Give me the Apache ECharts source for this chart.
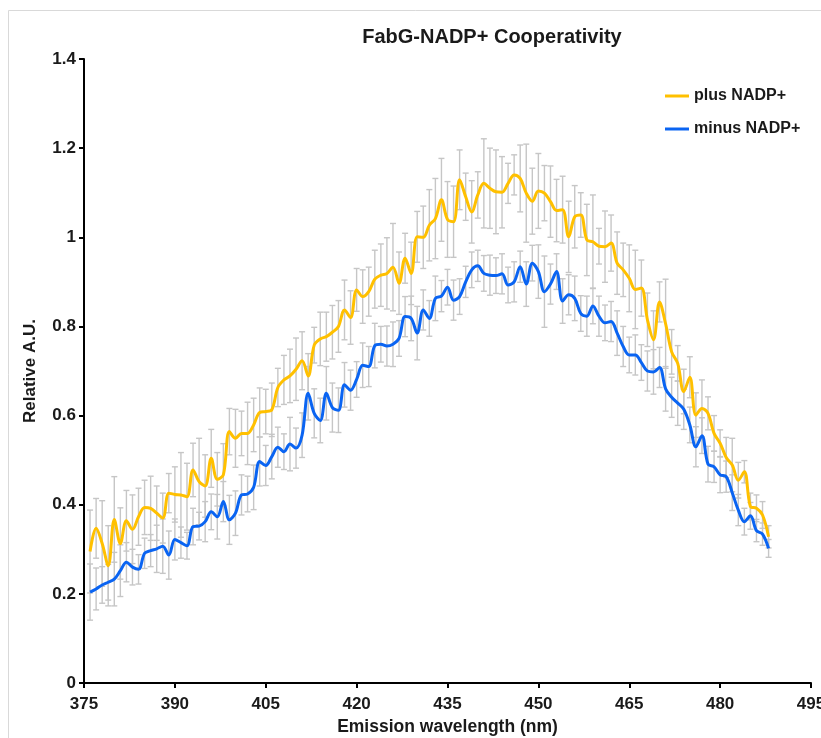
<!DOCTYPE html>
<html>
<head>
<meta charset="utf-8">
<script src="https://cdn.jsdelivr.net/npm/echarts@6/dist/echarts.min.js"></script>
<style>
  html, body { margin: 0; padding: 0; background: #ffffff; }
  #chart { width: 821px; height: 738px; }
</style>
</head>
<body>
<div id="chart"></div>
<script>
// Emission wavelength (nm) of each measurement
const wavelength = [
  376, 377, 378, 379, 380, 381, 382, 383, 384, 385,
  386, 387, 388, 389, 390, 391, 392, 393, 394, 395,
  396, 397, 398, 399, 400, 401, 402, 403, 404, 405,
  406, 407, 408, 409, 410, 411, 412, 413, 414, 415,
  416, 417, 418, 419, 420, 421, 422, 423, 424, 425,
  426, 427, 428, 429, 430, 431, 432, 433, 434, 435,
  436, 437, 438, 439, 440, 441, 442, 443, 444, 445,
  446, 447, 448, 449, 450, 451, 452, 453, 454, 455,
  456, 457, 458, 459, 460, 461, 462, 463, 464, 465,
  466, 467, 468, 469, 470, 471, 472, 473, 474, 475,
  476, 477, 478, 479, 480, 481, 482, 483, 484, 485,
  486, 487, 488
];

// Relative fluorescence, FabG with NADP+
const plusNADP = [
  0.295, 0.347, 0.313, 0.263, 0.367, 0.313, 0.364, 0.345, 0.373, 0.394,
  0.392, 0.381, 0.370, 0.426, 0.423, 0.422, 0.418, 0.478, 0.452, 0.442,
  0.504, 0.457, 0.467, 0.564, 0.549, 0.560, 0.560, 0.579, 0.607, 0.609,
  0.613, 0.663, 0.680, 0.689, 0.704, 0.723, 0.689, 0.758, 0.772, 0.777,
  0.787, 0.800, 0.837, 0.820, 0.882, 0.867, 0.878, 0.906, 0.915, 0.919,
  0.933, 0.897, 0.953, 0.919, 1.001, 1.000, 1.027, 1.042, 1.084, 1.040,
  1.035, 1.129, 1.091, 1.057, 1.095, 1.121, 1.110, 1.102, 1.101, 1.121,
  1.140, 1.132, 1.099, 1.081, 1.104, 1.099, 1.080, 1.060, 1.062, 1.001,
  1.046, 1.050, 0.994, 0.990, 0.980, 0.979, 0.987, 0.942, 0.927, 0.908,
  0.883, 0.886, 0.815, 0.770, 0.855, 0.806, 0.743, 0.717, 0.654, 0.686,
  0.601, 0.616, 0.605, 0.560, 0.538, 0.506, 0.489, 0.455, 0.474, 0.396,
  0.392, 0.377, 0.328
];

// Error (± one standard deviation) for the plus NADP+ trace
const plusErr = [
  0.093, 0.067, 0.096, 0.090, 0.096, 0.080, 0.068, 0.077, 0.064, 0.061,
  0.072, 0.061, 0.056, 0.044, 0.062, 0.095, 0.075, 0.060, 0.097, 0.070,
  0.065, 0.060, 0.070, 0.052, 0.065, 0.050, 0.070, 0.060, 0.055, 0.050,
  0.060, 0.043, 0.055, 0.060, 0.070, 0.065, 0.050, 0.040, 0.060, 0.055,
  0.060, 0.058, 0.067, 0.060, 0.048, 0.060, 0.055, 0.065, 0.070, 0.080,
  0.098, 0.070, 0.056, 0.070, 0.057, 0.070, 0.080, 0.090, 0.093, 0.085,
  0.080, 0.067, 0.053, 0.070, 0.052, 0.100, 0.090, 0.094, 0.080, 0.045,
  0.045, 0.075, 0.110, 0.074, 0.084, 0.062, 0.080, 0.070, 0.075, 0.080,
  0.070, 0.050, 0.080, 0.105, 0.040, 0.080, 0.063, 0.070, 0.060, 0.075,
  0.088, 0.063, 0.060, 0.065, 0.045, 0.100, 0.050, 0.040, 0.050, 0.046,
  0.050, 0.064, 0.037, 0.040, 0.030, 0.045, 0.060, 0.040, 0.025, 0.030,
  0.030, 0.030, 0.025
];

// Relative fluorescence, FabG without NADP+
const minusNADP = [
  0.204, 0.211, 0.220, 0.226, 0.233, 0.252, 0.271, 0.260, 0.255, 0.291,
  0.297, 0.301, 0.307, 0.287, 0.322, 0.315, 0.308, 0.351, 0.352, 0.362,
  0.384, 0.373, 0.407, 0.366, 0.381, 0.422, 0.424, 0.439, 0.497, 0.488,
  0.508, 0.529, 0.519, 0.536, 0.527, 0.556, 0.650, 0.605, 0.589, 0.650,
  0.618, 0.612, 0.669, 0.657, 0.681, 0.713, 0.710, 0.757, 0.760, 0.756,
  0.760, 0.773, 0.822, 0.818, 0.785, 0.837, 0.818, 0.863, 0.868, 0.888,
  0.859, 0.867, 0.900, 0.927, 0.936, 0.919, 0.915, 0.914, 0.918, 0.893,
  0.900, 0.934, 0.895, 0.942, 0.923, 0.878, 0.895, 0.923, 0.857, 0.871,
  0.863, 0.829, 0.823, 0.846, 0.823, 0.808, 0.811, 0.785, 0.755, 0.736,
  0.736, 0.719, 0.700, 0.698, 0.708, 0.660, 0.641, 0.628, 0.614, 0.579,
  0.530, 0.555, 0.491, 0.485, 0.467, 0.463, 0.427, 0.388, 0.362, 0.375,
  0.342, 0.334, 0.302
];

// Error (± one standard deviation) for the minus NADP+ trace
const minusErr = [
  0.063, 0.047, 0.041, 0.040, 0.060, 0.058, 0.044, 0.040, 0.033, 0.034,
  0.036, 0.053, 0.061, 0.054, 0.046, 0.035, 0.030, 0.041, 0.031, 0.045,
  0.040, 0.050, 0.045, 0.055, 0.050, 0.045, 0.040, 0.050, 0.055, 0.045,
  0.050, 0.045, 0.040, 0.060, 0.045, 0.050, 0.060, 0.055, 0.050, 0.060,
  0.055, 0.050, 0.050, 0.045, 0.040, 0.050, 0.045, 0.050, 0.040, 0.045,
  0.050, 0.040, 0.045, 0.050, 0.060, 0.045, 0.040, 0.050, 0.035, 0.040,
  0.045, 0.040, 0.035, 0.040, 0.035, 0.040, 0.045, 0.040, 0.045, 0.040,
  0.045, 0.035, 0.050, 0.040, 0.060, 0.080, 0.045, 0.040, 0.050, 0.045,
  0.050, 0.040, 0.045, 0.040, 0.045, 0.040, 0.045, 0.050, 0.045, 0.040,
  0.045, 0.040, 0.045, 0.050, 0.045, 0.050, 0.045, 0.050, 0.045, 0.040,
  0.045, 0.040, 0.040, 0.035, 0.040, 0.035, 0.040, 0.035, 0.030, 0.030,
  0.025, 0.025, 0.020
];

const seriesNames = ['plus NADP+', 'minus NADP+'];
const xAxisRange = [375, 495];
const xTickStep = 15;
const yAxisRange = [0, 1.4];
const yTickStep = 0.2;

const COLOR_PLUS = '#FFC000';
const COLOR_MINUS = '#0A64F2';
const COLOR_ERR = '#C6C6C6';
const FONT = "'Liberation Sans', Arial, sans-serif";

function toPairs(values) {
  return wavelength.map((w, i) => [w, values[i]]);
}

// Vertical error bars with small caps, drawn through the axis scales
function errorBars(values, errs, name) {
  return {
    type: 'custom',
    name: name + ' error',
    silent: true,
    z: 1,
    data: wavelength.map((w, i) => [w, values[i] - errs[i], values[i] + errs[i]]),
    encode: { x: 0, y: [1, 2] },
    renderItem(params, api) {
      const lo = api.coord([api.value(0), api.value(1)]);
      const hi = api.coord([api.value(0), api.value(2)]);
      const cap = 3;
      const style = { stroke: COLOR_ERR, lineWidth: 1.4 };
      return {
        type: 'group',
        children: [
          { type: 'line', shape: { x1: lo[0], y1: lo[1], x2: hi[0], y2: hi[1] }, style },
          { type: 'line', shape: { x1: lo[0] - cap, y1: lo[1], x2: lo[0] + cap, y2: lo[1] }, style },
          { type: 'line', shape: { x1: hi[0] - cap, y1: hi[1], x2: hi[0] + cap, y2: hi[1] }, style }
        ]
      };
    }
  };
}

function traceSeries(values, name, color) {
  return {
    type: 'line',
    name,
    data: toPairs(values),
    showSymbol: false,
    smooth: 0.35,
    z: 3,
    lineStyle: { color, width: 3 },
    itemStyle: { color },
    emphasis: { disabled: true }
  };
}

const chart = echarts.init(document.getElementById('chart'), null, { renderer: 'canvas' });

chart.setOption({
  animation: false,
  backgroundColor: '#ffffff',
  title: {
    text: 'FabG-NADP+ Cooperativity',
    left: 487,
    top: 22,
    textAlign: 'center',
    textStyle: { fontFamily: FONT, fontWeight: 'bold', fontSize: 20, color: '#1a1a1a' }
  },
  graphic: [{
    type: 'rect',
    silent: true,
    shape: { x: 8.5, y: 10.5, width: 900, height: 900 },
    style: { fill: null, stroke: '#D9D9D9', lineWidth: 1 },
    z: -1
  }],
  legend: {
    data: seriesNames,
    orient: 'vertical',
    left: 660,
    top: 83,
    itemWidth: 24,
    itemHeight: 3,
    itemGap: 17,
    icon: 'rect',
    textStyle: { fontFamily: FONT, fontWeight: 'bold', fontSize: 16, color: '#1a1a1a' }
  },
  grid: { left: 84, right: 10, top: 59, bottom: 55, containLabel: false, outerBoundsMode: 'none' },
  xAxis: {
    type: 'value',
    min: xAxisRange[0],
    max: xAxisRange[1],
    interval: xTickStep,
    name: 'Emission wavelength (nm)',
    nameLocation: 'middle',
    nameGap: 35,
    nameTextStyle: { fontFamily: FONT, fontWeight: 'bold', fontSize: 17.5, color: '#1a1a1a' },
    axisLine: { show: true, lineStyle: { color: '#000000', width: 2 } },
    axisTick: { show: true, inside: false, length: 5, lineStyle: { color: '#000000', width: 2 } },
    axisLabel: { margin: 13, fontFamily: FONT, fontWeight: 'bold', fontSize: 17, color: '#1a1a1a', showMaxLabel: true },
    splitLine: { show: false }
  },
  yAxis: {
    type: 'value',
    min: yAxisRange[0],
    max: yAxisRange[1],
    interval: yTickStep,
    name: 'Relative A.U.',
    nameLocation: 'middle',
    nameRotate: 90,
    nameGap: 45,
    nameTextStyle: { fontFamily: FONT, fontWeight: 'bold', fontSize: 17, color: '#1a1a1a' },
    axisLine: { show: true, lineStyle: { color: '#000000', width: 2 } },
    axisTick: { show: true, inside: false, length: 5, lineStyle: { color: '#000000', width: 2 } },
    axisLabel: {
      margin: 8,
      fontFamily: FONT, fontWeight: 'bold', fontSize: 17, color: '#1a1a1a',
      formatter: v => String(Number(v.toFixed(1)))
    },
    splitLine: { show: false }
  },
  series: [
    errorBars(plusNADP, plusErr, seriesNames[0]),
    errorBars(minusNADP, minusErr, seriesNames[1]),
    traceSeries(plusNADP, seriesNames[0], COLOR_PLUS),
    traceSeries(minusNADP, seriesNames[1], COLOR_MINUS)
  ]
});
</script>
</body>
</html>
